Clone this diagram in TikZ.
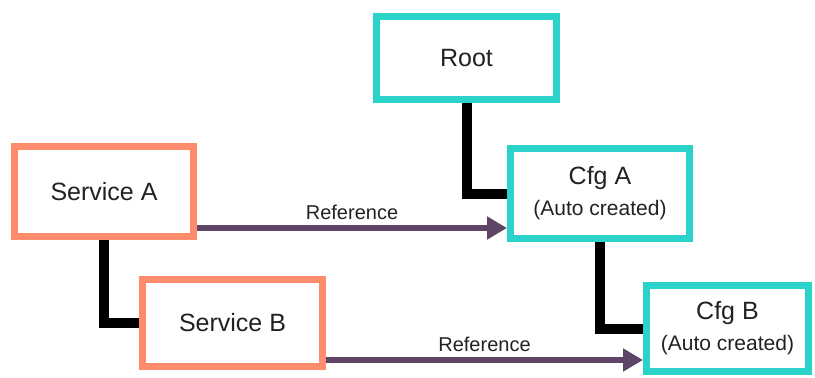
\documentclass[tikz,border=0pt]{standalone}
\usepackage{fontspec}
\setmainfont{Liberation Sans}
\usetikzlibrary{arrows.meta}
\definecolor{cfgteal}{HTML}{2AD2C9}
\definecolor{svcorange}{HTML}{FF8D6D}
\definecolor{refpurple}{HTML}{5E4466}
\definecolor{txtgray}{HTML}{222222}
\newcommand{\boxfont}{\fontsize{25}{30}\selectfont}
\newcommand{\notefont}{\fontsize{21}{25}\selectfont}
\newcommand{\reffont}{\fontsize{20}{24}\selectfont}
\begin{document}
\begin{tikzpicture}[x=1pt, y=-1pt,
            cfg/.style={draw=cfgteal, line width=7pt, fill=white, inner sep=0pt, align=center, text=txtgray, font=\boxfont},
            svc/.style={draw=svcorange, line width=7pt, fill=white, inner sep=0pt, text=txtgray, font=\boxfont},
            owner/.style={line width=10pt, black},
            ref/.style={line width=6pt, refpurple, -{Triangle[length=20pt, width=22pt]}},
            reflabel/.style={midway, above=2pt, text=txtgray, font=\reffont},
        ]
        \useasboundingbox (0,0) rectangle (815,378);

        \node[cfg, minimum width=180pt, minimum height=83pt] (root) at (466.5,58) {Root};
        \node[cfg, minimum width=179pt, minimum height=90pt] (cfgA) at (600,193.5)
            {Cfg A\\[1pt]{\notefont (Auto created)}};
        \node[cfg, minimum width=162pt, minimum height=86pt] (cfgB) at (727.5,328.5)
            {Cfg B\\[1pt]{\notefont (Auto created)}};

        \node[svc, minimum width=179pt, minimum height=90pt] (svcA) at (104,191.5) {Service A};
        \node[svc, minimum width=180pt, minimum height=87pt] (svcB) at (232.5,323) {Service B};

        \draw[owner] (root.south) |- (cfgA.west);
        \draw[owner] (cfgA.south) |- (cfgB.west);
        \draw[owner] (svcA.south) |- (svcB.west);

        \coordinate (refA) at ([yshift=-36.5pt]svcA.east);
        \coordinate (refB) at ([yshift=-37pt]svcB.east);
        \draw[ref] (refA) -- (refA -| cfgA.west) node[reflabel] {Reference};
        \draw[ref] (refB) -- (refB -| cfgB.west) node[reflabel] {Reference};
    \end{tikzpicture}
\end{document}
